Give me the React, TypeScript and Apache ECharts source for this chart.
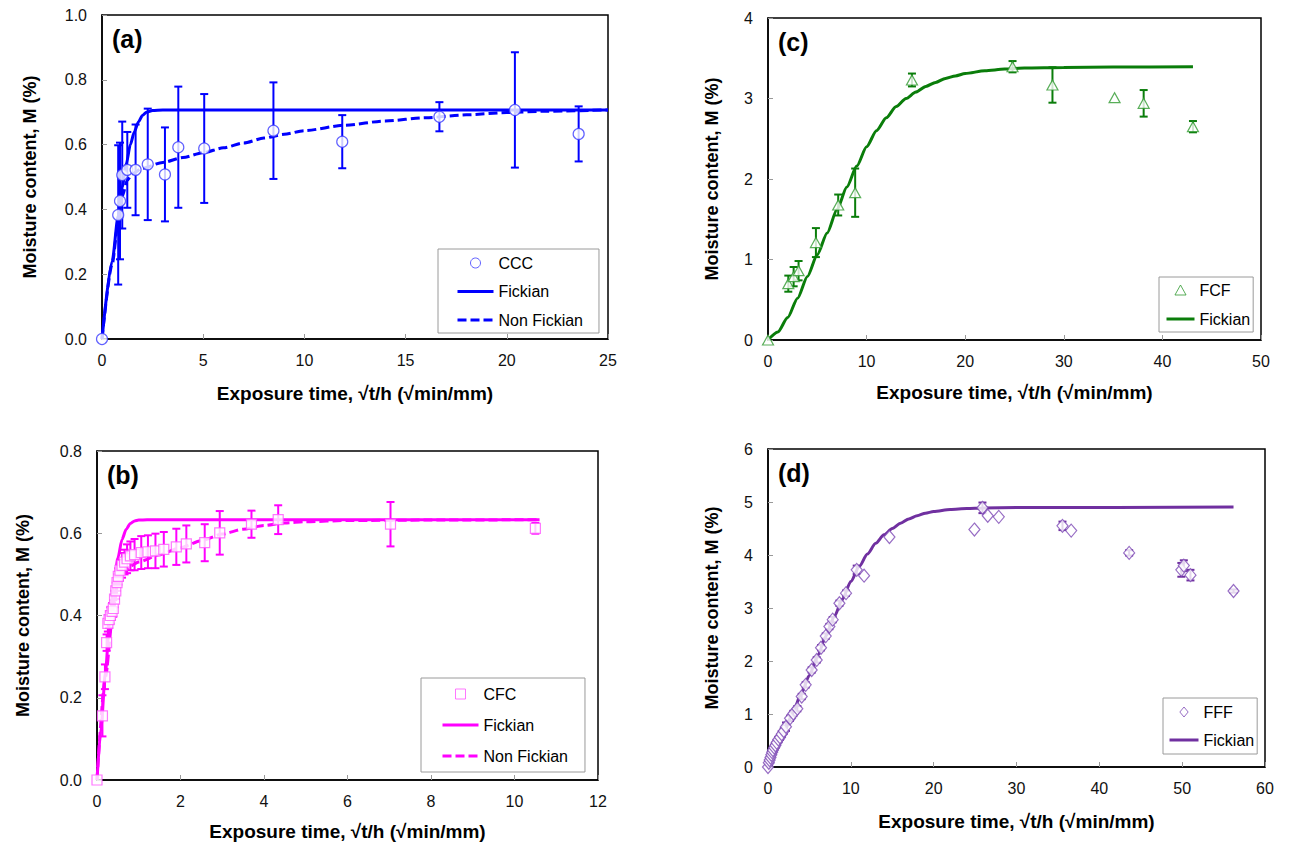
import React, { useEffect, useRef } from "react";
import * as echarts from "echarts";

// ---------- Panel (a): CCC ----------
const aX = [0, 0.8, 0.89, 1.0, 1.25, 1.66, 2.26, 3.11, 3.77, 5.05, 8.47, 11.87, 16.67, 20.4, 23.55];
const aY = [0, 0.383, 0.426, 0.506, 0.522, 0.522, 0.539, 0.508, 0.592, 0.588, 0.643, 0.609, 0.686, 0.707, 0.633];
const aE = [0, 0.215, 0.18, 0.165, 0.117, 0.14, 0.172, 0.145, 0.187, 0.168, 0.149, 0.082, 0.045, 0.178, 0.085];
const aFickX = [0, 0.5, 0.8, 1.0, 1.2, 1.4, 1.6, 1.8, 2.0, 2.2, 2.5, 3.0, 25];
const aFickY = [0, 0.24, 0.38, 0.47, 0.54, 0.6, 0.64, 0.67, 0.69, 0.7, 0.705, 0.707, 0.707];
const aNonX = [0, 0.5, 0.8, 1.0, 1.25, 1.5, 2, 3, 4, 5, 6, 7, 8, 9, 10, 12, 14, 16, 18, 20, 22, 25];
const aNonY = [0, 0.23, 0.36, 0.44, 0.49, 0.51, 0.527, 0.545, 0.56, 0.575, 0.59, 0.605, 0.62, 0.632, 0.643, 0.66, 0.673, 0.683, 0.692, 0.699, 0.703, 0.707];

// ---------- Panel (b): CFC ----------
const bX = [0, 0.13, 0.19, 0.23, 0.26, 0.29, 0.32, 0.36, 0.39, 0.42, 0.45, 0.48, 0.51, 0.55, 0.6, 0.66, 0.72, 0.8, 0.9, 1.06, 1.22, 1.4, 1.6, 1.9, 2.14, 2.58, 2.94, 3.7, 4.34, 7.03, 10.5];
const bY = [0, 0.156, 0.251, 0.334, 0.381, 0.39, 0.4, 0.41, 0.417, 0.44, 0.46, 0.48, 0.495, 0.51, 0.522, 0.53, 0.538, 0.545, 0.548, 0.553, 0.555, 0.557, 0.561, 0.567, 0.574, 0.577, 0.601, 0.622, 0.633, 0.622, 0.612];
const bE = [0, 0.05, 0.03, 0.02, 0.02, 0.02, 0.02, 0.02, 0.02, 0.02, 0.02, 0.02, 0.02, 0.025, 0.03, 0.03, 0.035, 0.035, 0.038, 0.04, 0.04, 0.042, 0.042, 0.044, 0.045, 0.045, 0.053, 0.033, 0.035, 0.054, 0.013];
const bFickX = [0, 0.1, 0.2, 0.3, 0.4, 0.5, 0.6, 0.7, 0.8, 0.9, 1.0, 1.2, 10.6];
const bFickY = [0, 0.13, 0.26, 0.38, 0.47, 0.54, 0.585, 0.61, 0.624, 0.63, 0.632, 0.633, 0.633];
const bNonX = [0, 0.2, 0.4, 0.5, 0.6, 0.7, 0.8, 1.0, 1.5, 2, 2.5, 3, 3.5, 4, 4.5, 5, 6, 8, 10.6];
const bNonY = [0, 0.25, 0.42, 0.47, 0.5, 0.512, 0.52, 0.53, 0.548, 0.565, 0.582, 0.598, 0.61, 0.619, 0.625, 0.628, 0.631, 0.632, 0.633];

// ---------- Panel (c): FCF ----------
const cX = [0, 2.06, 2.6, 3.1, 4.86, 7.12, 8.84, 14.6, 24.8, 28.85, 35.15, 38.1, 43.1];
const cY = [0, 0.7, 0.787, 0.861, 1.21, 1.677, 1.83, 3.23, 3.395, 3.168, 3.01, 2.94, 2.65];
const cE = [0, 0.1, 0.12, 0.12, 0.18, 0.13, 0.3, 0.08, 0.07, 0.22, 0, 0.165, 0.07];
const cFickX = [0, 1, 2, 3, 4, 5, 6, 7, 8, 9, 10, 11, 12, 13, 14, 15, 16, 17, 18, 19, 20, 22, 24, 26, 30, 35, 43.1];
const cFickY = [0, 0.1, 0.28, 0.52, 0.79, 1.06, 1.33, 1.62, 1.9, 2.16, 2.4, 2.6, 2.76, 2.9, 3.0, 3.08, 3.15, 3.2, 3.25, 3.28, 3.31, 3.345, 3.365, 3.378, 3.385, 3.39, 3.395];

// ---------- Panel (d): FFF ----------
const dX = [0, 0.1, 0.2, 0.3, 0.4, 0.5, 0.6, 0.75, 0.9, 1.05, 1.25, 1.45, 1.65, 1.9, 2.17, 2.66, 3.06, 3.54, 4.07, 4.55, 5.27, 5.88, 6.4, 6.97, 7.41, 7.81, 8.62, 9.42, 10.71, 11.6, 14.66, 24.92, 25.89, 26.53, 27.86, 35.55, 36.6, 43.6, 49.9, 50.2, 51.0, 56.2];
const dY = [0, 0.08, 0.13, 0.18, 0.23, 0.28, 0.32, 0.37, 0.41, 0.46, 0.52, 0.56, 0.62, 0.68, 0.76, 0.92, 1.01, 1.1, 1.33, 1.55, 1.83, 2.02, 2.25, 2.47, 2.65, 2.78, 3.09, 3.28, 3.72, 3.61, 4.34, 4.48, 4.89, 4.74, 4.72, 4.55, 4.46, 4.04, 3.72, 3.8, 3.62, 3.32];
const dE = [0, 0.05, 0.05, 0.05, 0.05, 0.05, 0.05, 0.05, 0.05, 0.05, 0.05, 0.05, 0.05, 0.05, 0.08, 0.05, 0.05, 0.05, 0.05, 0.05, 0.05, 0.05, 0.05, 0.05, 0.05, 0.05, 0.05, 0.05, 0.08, 0, 0, 0, 0.1, 0, 0, 0.08, 0, 0.05, 0.13, 0.1, 0.1, 0.03];
const dFickX = [0, 1, 2, 3, 4, 5, 6, 7, 8, 9, 10, 11, 12, 13, 14, 15, 16, 17, 18, 19, 20, 22, 24, 26, 30, 56.2];
const dFickY = [0, 0.33, 0.68, 1.03, 1.38, 1.73, 2.1, 2.47, 2.84, 3.17, 3.5, 3.78, 4.02, 4.22, 4.38, 4.5, 4.6, 4.68, 4.74, 4.79, 4.82, 4.86, 4.878, 4.888, 4.895, 4.905];

const X_TITLE = "Exposure time, √t/h (√min/mm)";
const Y_TITLE = "Moisture content, M (%)";
const FONT = '"Liberation Sans", Arial, Helvetica, sans-serif';

const SYM_RECT = "path://M0,0H10V10H0Z";
const SYM_TRI = "path://M5,0L10,9L0,9Z";
const SYM_DIAM = "path://M5,0L10,6L5,12L0,6Z";

const zip = (xs: number[], ys: number[]) => xs.map((x, i) => [x, ys[i]]);
const zip3 = (xs: number[], ys: number[], es: number[]) => xs.map((x, i) => [x, ys[i], es[i]]);

type Panel = {
  label: string;
  grid: { left: number; top: number; width: number; height: number };
  xMax: number; xInt: number; yMax: number; yInt: number; yDec: number;
  xGap: number; yGap: number;
  color: string; mark: string;
  symbol: string; symbolSize: number | number[];
  scatterName: string;
  pts: number[][];
  fick: number[][];
  non?: number[][];
  legend: { left: number; top: number; itemWidth: number; itemGap: number; padding: number[] };
};

const panels: Panel[] = [
  {
    label: "(a)", grid: { left: 102, top: 15, width: 506, height: 324 },
    xMax: 25, xInt: 5, yMax: 1.0, yInt: 0.2, yDec: 1, xGap: 45, yGap: 63,
    color: "#0000ff", mark: "#3a3aff", symbol: "circle", symbolSize: 11, scatterName: "CCC",
    pts: zip3(aX, aY, aE), fick: zip(aFickX, aFickY), non: zip(aNonX, aNonY),
    legend: { left: 438, top: 249, itemWidth: 36, itemGap: 11.5, padding: [6, 16, 5, 18] },
  },
  {
    label: "(b)", grid: { left: 97, top: 451, width: 501, height: 329 },
    xMax: 12, xInt: 2, yMax: 0.8, yInt: 0.2, yDec: 1, xGap: 42, yGap: 65,
    color: "#ff00ff", mark: "#ff55ff", symbol: SYM_RECT, symbolSize: 10, scatterName: "CFC",
    pts: zip3(bX, bY, bE), fick: zip(bFickX, bFickY), non: zip(bNonX, bNonY),
    legend: { left: 421, top: 678, itemWidth: 36, itemGap: 14, padding: [8, 17, 8, 20] },
  },
  {
    label: "(c)", grid: { left: 768, top: 18, width: 493, height: 322 },
    xMax: 50, xInt: 10, yMax: 4, yInt: 1, yDec: 0, xGap: 43, yGap: 47,
    color: "#0a7d0a", mark: "#2f9a2f", symbol: SYM_TRI, symbolSize: [11, 10], scatterName: "FCF",
    pts: zip3(cX, cY, cE), fick: zip(cFickX, cFickY),
    legend: { left: 1159, top: 277, itemWidth: 28, itemGap: 12, padding: [5, 3, 5, 6] },
  },
  {
    label: "(d)", grid: { left: 768, top: 449, width: 497, height: 318 },
    xMax: 60, xInt: 10, yMax: 6, yInt: 1, yDec: 0, xGap: 45, yGap: 47,
    color: "#7030a0", mark: "#7d48b5", symbol: SYM_DIAM, symbolSize: [11, 13], scatterName: "FFF",
    pts: zip3(dX, dY, dE), fick: zip(dFickX, dFickY),
    legend: { left: 1163, top: 698, itemWidth: 29, itemGap: 11, padding: [6, 3, 6, 5] },
  },
];

function errorRender(color: string) {
  return (params: any, api: any) => {
    const x = api.value(0);
    const y = api.value(1);
    const e = api.value(2);
    if (!e) return { type: "group", children: [] };
    const t = api.coord([x, y + e]);
    const b = api.coord([x, y - e]);
    const cap = 4;
    const st = { stroke: color, lineWidth: 2 };
    return {
      type: "group",
      children: [
        { type: "line", shape: { x1: t[0], y1: t[1], x2: b[0], y2: b[1] }, style: st },
        { type: "line", shape: { x1: t[0] - cap, y1: t[1], x2: t[0] + cap, y2: t[1] }, style: st },
        { type: "line", shape: { x1: b[0] - cap, y1: b[1], x2: b[0] + cap, y2: b[1] }, style: st },
      ],
    };
  };
}

function buildOption() {
  const grid: any[] = [];
  const xAxis: any[] = [];
  const yAxis: any[] = [];
  const series: any[] = [];
  const legend: any[] = [];
  const graphic: any[] = [];

  panels.forEach((p, i) => {
    const tag = ` (${p.label.charAt(1)})`;
    grid.push({ ...p.grid, show: true, borderColor: "#000", borderWidth: 1.5, containLabel: false });
    const axisCommon = {
      type: "value",
      gridIndex: i,
      min: 0,
      nameLocation: "middle",
      axisLine: { show: true, onZero: false, lineStyle: { color: "#000", width: 1.5 } },
      axisTick: { show: true, inside: true, length: 5, lineStyle: { color: "#999", width: 1 } },
      splitLine: { show: false },
    };
    xAxis.push({
      ...axisCommon,
      max: p.xMax, interval: p.xInt, name: X_TITLE, nameGap: p.xGap,
      nameTextStyle: { fontFamily: FONT, fontWeight: "bold", fontSize: 19, color: "#000" },
      axisLabel: { margin: 13, fontSize: 16, fontFamily: FONT, color: "#111", showMinLabel: true, showMaxLabel: true },
    });
    yAxis.push({
      ...axisCommon,
      max: p.yMax, interval: p.yInt, name: Y_TITLE, nameGap: p.yGap, nameRotate: 90,
      nameTextStyle: { fontFamily: FONT, fontWeight: "bold", fontSize: 18, color: "#000" },
      axisLabel: {
        margin: 15, fontSize: 16, fontFamily: FONT, color: "#111", showMinLabel: true, showMaxLabel: true,
        formatter: (v: number) => v.toFixed(p.yDec),
      },
    });

    series.push({
      type: "custom", name: "err" + tag, xAxisIndex: i, yAxisIndex: i,
      renderItem: errorRender(p.color), data: p.pts, encode: { x: 0, y: 1 }, z: 2, silent: true,
    });
    series.push({
      type: "line", name: "Fickian" + tag, xAxisIndex: i, yAxisIndex: i,
      data: p.fick, showSymbol: false, symbol: "none", smooth: 0.25, smoothMonotone: "x",
      lineStyle: { color: p.color, width: 3 }, itemStyle: { color: p.color }, z: 3,
    });
    if (p.non) {
      series.push({
        type: "line", name: "Non Fickian" + tag, xAxisIndex: i, yAxisIndex: i,
        data: p.non, showSymbol: false, symbol: "none", smooth: 0.25, smoothMonotone: "x",
        lineStyle: { color: p.color, width: 3, type: [9, 4] }, itemStyle: { color: p.color }, z: 3,
      });
    }
    series.push({
      type: "scatter", name: p.scatterName, xAxisIndex: i, yAxisIndex: i,
      data: p.pts.map((d) => [d[0], d[1]]), symbol: p.symbol, symbolSize: p.symbolSize,
      itemStyle: { color: "#fff", borderColor: p.mark, borderWidth: 1.2 }, z: 4,
    });

    const names: any[] = [
      { name: p.scatterName },
      { name: "Fickian" + tag, itemStyle: { opacity: 0 } },
    ];
    if (p.non) names.push({ name: "Non Fickian" + tag, itemStyle: { opacity: 0 } });
    legend.push({
      data: names, orient: "vertical", left: p.legend.left, top: p.legend.top,
      itemWidth: p.legend.itemWidth, itemHeight: 10, itemGap: p.legend.itemGap + 1,
      padding: p.legend.padding, borderColor: "#9a9a9a", borderWidth: 1, backgroundColor: "#fff",
      selectedMode: false,
      itemStyle: { borderWidth: 1 },
      lineStyle: { width: 3 },
      textStyle: { fontFamily: FONT, fontSize: 16, color: "#000", lineHeight: 16 },
      formatter: (n: string) => n.replace(/ \([a-d]\)$/, ""),
    });

    graphic.push({
      type: "text", left: p.grid.left + 10, top: p.grid.top + 11,
      style: { text: p.label, font: `bold 25px ${FONT}`, fill: "#000" },
    });
  });

  return { animation: false, backgroundColor: "#fff", grid, xAxis, yAxis, series, legend, graphic };
}

export default function App() {
  const ref = useRef<HTMLDivElement>(null);
  useEffect(() => {
    if (!ref.current) return;
    const chart = echarts.init(ref.current, undefined, { renderer: "svg" });
    chart.setOption(buildOption() as any);
    return () => chart.dispose();
  }, []);
  return (
    <div
      ref={ref}
      style={{ position: "absolute", left: 0, top: 0, width: 1316, height: 846, background: "#fff" }}
    />
  );
}
